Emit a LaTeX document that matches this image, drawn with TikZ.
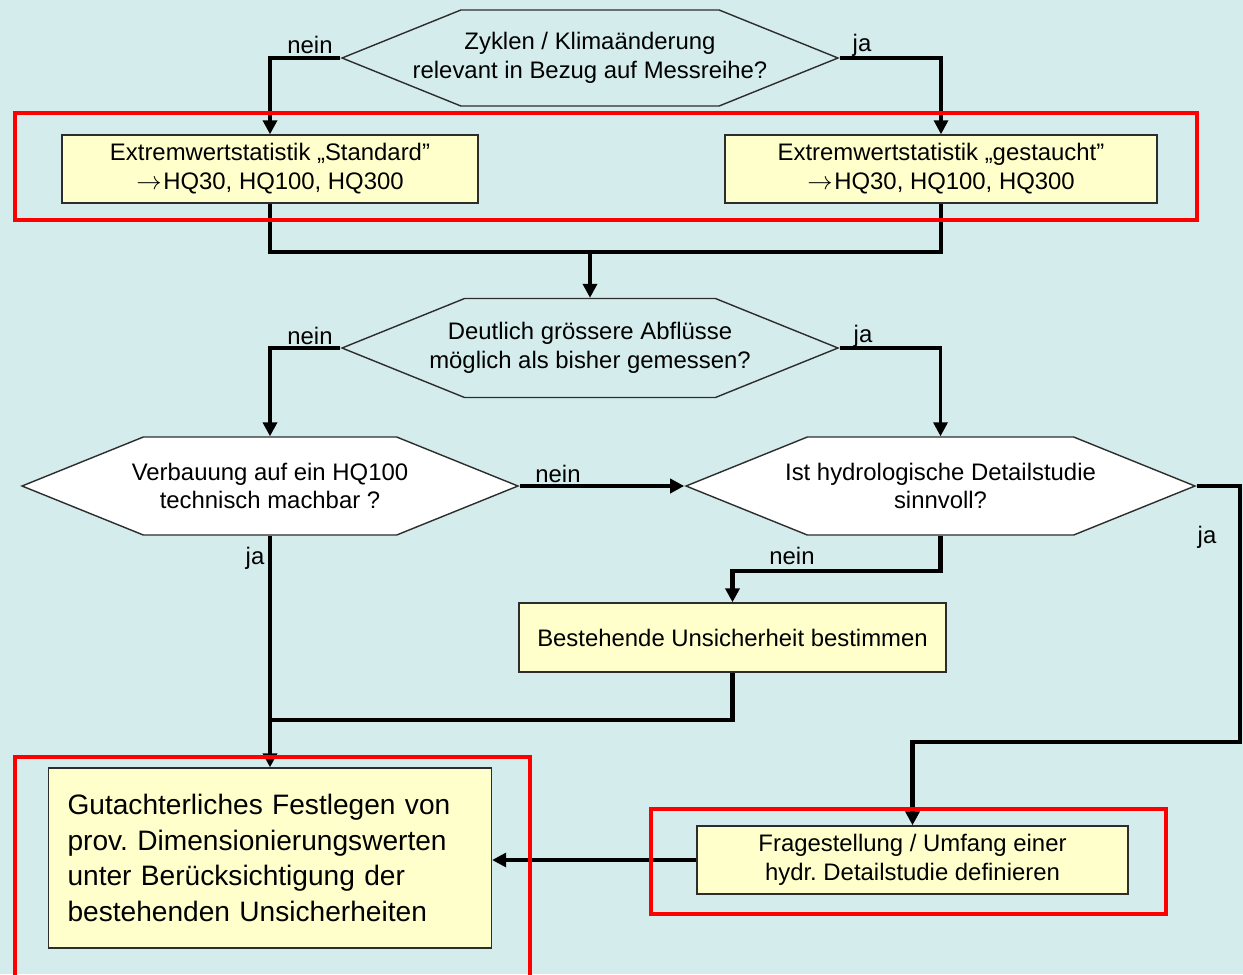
\documentclass[tikz,border=0pt]{standalone}
\usepackage{fontspec}
\setmainfont{Liberation Sans}
\usetikzlibrary{arrows.meta,shapes.symbols}
\definecolor{bgcyan}{RGB}{212,236,236}
\definecolor{boxfill}{RGB}{255,255,204}
\definecolor{edge}{RGB}{45,45,45}
\newcommand{\toarrow}{$\rightarrow$\kern1pt}
\tikzstyle{box} = [draw=edge, fill=boxfill, line width=0.8pt, align=center, inner sep=0pt, minimum height=1.36cm, font=\fontsize{13.6}{16.4}\selectfont]
\tikzstyle{ask} = [signal, signal to=west and east, signal pointer angle=44, draw=edge, line width=0.8pt, inner sep=0pt]
\tikzstyle{lbl} = [align=center, inner sep=0pt, font=\fontsize{13.6}{16.4}\selectfont]
\tikzstyle{wire} = [line width=2.4pt]
\tikzstyle{wireB} = [line width=1.8pt]
\tikzstyle{arr} = [-{Triangle[length=8pt,width=8pt]}]
\tikzstyle{hilite} = [draw=red, line width=2.8pt]

\begin{document}
\frenchspacing
\begin{tikzpicture}[x=0.02cm, y=-0.02cm]
  \fill [bgcyan] (0,0) rectangle (1243,974);
  \useasboundingbox (0,0) rectangle (1243,974);
  % decisions
  \node (q1) at (590,58) [ask, minimum width=9.92cm, minimum height=1.92cm, label={[lbl]center:{Zyklen / Klimaänderung\\relevant in Bezug auf Messreihe?}}] {};
  \node (q2) at (590,348) [ask, minimum width=9.92cm, minimum height=1.98cm, label={[lbl]center:{Deutlich grössere Abflüsse\\möglich als bisher gemessen?}}] {};
  \node (q3) at (270,486) [ask, fill=white, minimum width=9.92cm, minimum height=1.96cm, label={[lbl]center:{Verbauung auf ein HQ100\\technisch machbar ?}}] {};
  \node (q4) at (940.5,486) [ask, fill=white, minimum width=10.18cm, minimum height=1.96cm, label={[lbl]center:{Ist hydrologische Detailstudie\\sinnvoll?}}] {};
  % boxes
  \node (std) at (270,169) [box, minimum width=8.32cm] {Extremwertstatistik „Standard"\\\toarrow HQ30, HQ100, HQ300};
  \node (gst) at (941,169) [box, minimum width=8.64cm] {Extremwertstatistik „gestaucht"\\\toarrow HQ30, HQ100, HQ300};
  \node (bes) at (732.5,637.5) [box, minimum width=8.54cm, minimum height=1.38cm] {Bestehende Unsicherheit bestimmen};
  \node (fra) at (912.5,860) [box, minimum width=8.62cm] {Fragestellung / Umfang einer\\hydr. Detailstudie definieren};
  \node (gut) at (270,858) [box, minimum width=8.86cm, minimum height=3.6cm, text width=8.1cm, align=left, font=\fontsize{16}{20.2}\selectfont] {Gutachterliches Festlegen von\\prov. Dimensionierungswerten\\unter Berücksichtigung der\\bestehenden Unsicherheiten};
  % labels
  \node (n1) at (310,45) [lbl] {nein};
  \node (j1) at (862,45) [lbl] {ja};
  \node (n2) at (310,336) [lbl] {nein};
  \node (j2) at (863,336) [lbl] {ja};
  \node (n3) at (558,474) [lbl] {nein};
  \node (j3) at (255,558) [lbl] {ja};
  \node (n4) at (792,556) [lbl] {nein};
  \node (j4) at (1207,537) [lbl] {ja};
  % joints
  \coordinate (m1) at (590,252);
  \coordinate (m2) at (270,720);
  \coordinate (r1) at (1240,742);
  % connectors
  \draw [wire, arr] (q1.west) -| (std.north);
  \draw [wireB, arr] (q1.east) -| (gst.north);
  \draw [wire] (std.south) |- (m1);
  \draw [wireB] (m1) -| (gst.south);
  \draw [wire, arr] (m1) -- (q2.north);
  \draw [wire, arr] (q2.west) -| (q3.north);
  \draw [wireB, arr] (q2.east) -| (q4.north);
  \draw [wire, arr] (q3.east) -- (q4.west);
  \draw [wire, arr] (q3.south) -- (gut.north);
  \draw [wire, arr] (q4.south) -- ++(0,35) -| (bes.north);
  \draw [wire] (bes.south) |- (m2);
  \draw [wire, arr] (q4.east) -| (r1) -| (fra.north);
  \draw [wireB, arr] (fra.west) -- (fra.west -| gut.east);
  % highlights
  \draw [hilite] (15,113) rectangle (1197,220);
  \draw [hilite] (15,757) rectangle (530,990);
  \draw [hilite] (651,809) rectangle (1166,914);
\end{tikzpicture}
\end{document}
